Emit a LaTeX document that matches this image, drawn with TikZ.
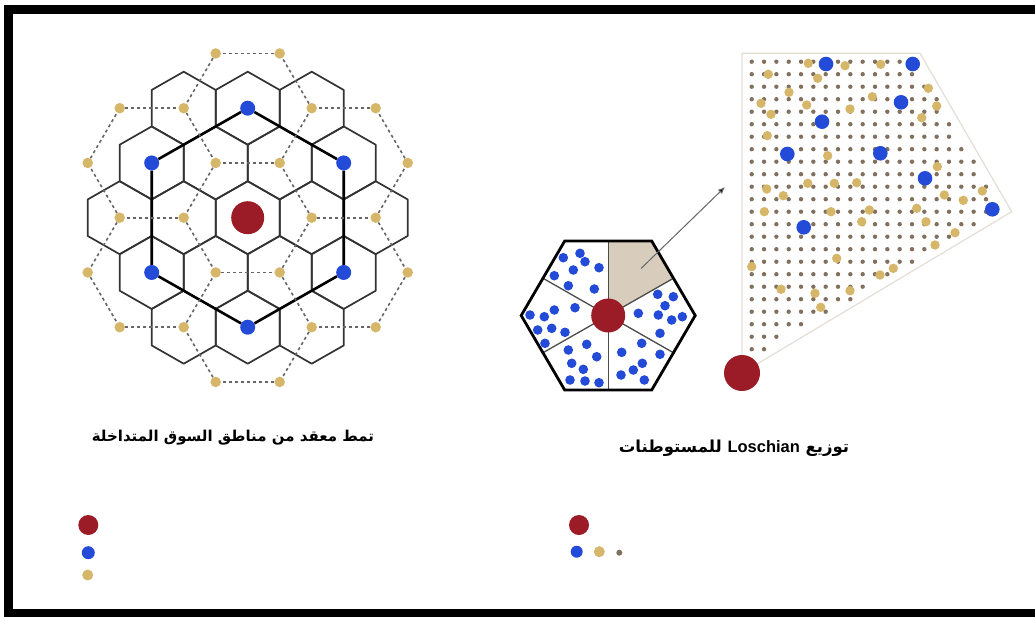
\documentclass[tikz,border=0pt]{standalone}
\usepackage{fontspec}
\newfontfamily\arabicfont[Script=Arabic]{DejaVu Sans}
\newfontfamily\latinfont{Liberation Sans}
\TeXXeTstate=1
\usetikzlibrary{arrows.meta}
\definecolor{redc}{RGB}{155,27,38}
\definecolor{bluec}{RGB}{35,75,215}
\definecolor{goldc}{RGB}{214,183,105}
\definecolor{gridc}{RGB}{130,112,95}
\definecolor{beigec}{RGB}{216,205,188}
\definecolor{fanc}{RGB}{228,222,214}
\tikzset{
  smallhex/.style={draw=black!80, line width=1.7pt, line join=round},
  bighex/.style={draw=black, line width=2.6pt},
  dashe/.style={draw=black!60, line width=1.6pt, dash pattern=on 3pt off 3pt},
  rdot/.style={circle, fill=redc, inner sep=0pt, minimum size=#1},
  bdot/.style={circle, fill=bluec, inner sep=0pt, minimum size=#1},
  gdot/.style={circle, fill=goldc, inner sep=0pt, minimum size=#1},
  ndot/.style={circle, fill=gridc, inner sep=0pt, minimum size=#1},
  spoke/.style={draw=black!70, line width=1.3pt},
  hexborder/.style={draw=black, line width=2.8pt, line join=miter},
  arrowln/.style={draw=black!60, line width=1pt, -{Latex[length=7pt,width=6pt,fill=black]}},
  capl/.style={font=\arabicfont\bfseries\fontsize{15}{17}\selectfont, inner sep=0pt},
  capr/.style={font=\arabicfont\bfseries\fontsize{16.5}{18}\selectfont, inner sep=0pt},
}
\begin{document}
\begin{tikzpicture}[x=1pt,y=-1pt]
\useasboundingbox (0,0) rectangle (1035,616);
\fill[white] (0,0) rectangle (1035,616);

% ---------- left: overlapping market areas ----------
\begin{scope}[shift={(247.7pt,-217.7pt)}, x=32pt, y=-54.75pt]
  \foreach \cx/\cy in {-2/-2,0/-2,2/-2,-3/-1,-1/-1,1/-1,3/-1,-4/0,-2/0,0/0,2/0,4/0,-3/1,-1/1,1/1,3/1,-2/2,0/2,2/2}
    \draw[smallhex] (\cx,\cy-0.6667) -- (\cx+1,\cy-0.3333) -- (\cx+1,\cy+0.3333) -- (\cx,\cy+0.6667) -- (\cx-1,\cy+0.3333) -- (\cx-1,\cy-0.3333) -- cycle;
  % centres
  \node[rdot=33pt] (R0) at (0,0) {};
  \node[bdot=15pt] (B1) at (0,-2) {};
  \node[bdot=15pt] (B2) at (3,-1) {};
  \node[bdot=15pt] (B3) at (3,1) {};
  \node[bdot=15pt] (B4) at (0,2) {};
  \node[bdot=15pt] (B5) at (-3,1) {};
  \node[bdot=15pt] (B6) at (-3,-1) {};
  \draw[bighex] (B1) -- (B2) -- (B3) -- (B4) -- (B5) -- (B6) -- (B1);
  % secondary centres
  \foreach \n/\px/\py in {Yp2z/2/0,Ym2z/-2/0,Yp1m1/1/-1,Ym1m1/-1/-1,Yp1p1/1/1,Ym1p1/-1/1,
      Yp2m2/2/-2,Ym2m2/-2/-2,Yp2p2/2/2,Ym2p2/-2/2,Yp1m3/1/-3,Ym1m3/-1/-3,Yp1p3/1/3,Ym1p3/-1/3,
      Yp5m1/5/-1,Ym5m1/-5/-1,Yp5p1/5/1,Ym5p1/-5/1,Yp4z/4/0,Ym4z/-4/0,Yp4m2/4/-2,Ym4m2/-4/-2,Yp4p2/4/2,Ym4p2/-4/2}
    \node[gdot=10.5pt] (\n) at (\px,\py) {};
  \foreach \a/\b in {Yp2z/Yp1m1,Yp1m1/Ym1m1,Ym1m1/Ym2z,Ym2z/Ym1p1,Ym1p1/Yp1p1,Yp1p1/Yp2z,
      Yp2m2/Yp1m3,Yp1m3/Ym1m3,Ym1m3/Ym2m2,Ym2m2/Ym1m1,Yp1m1/Yp2m2,
      Yp2p2/Yp1p3,Yp1p3/Ym1p3,Ym1p3/Ym2p2,Ym2p2/Ym1p1,Yp1p1/Yp2p2,
      Yp5m1/Yp4m2,Yp4m2/Yp2m2,Yp2z/Yp4z,Yp4z/Yp5m1,
      Yp5p1/Yp4p2,Yp4p2/Yp2p2,Yp4z/Yp5p1,
      Ym5m1/Ym4m2,Ym4m2/Ym2m2,Ym2z/Ym4z,Ym4z/Ym5m1,
      Ym5p1/Ym4p2,Ym4p2/Ym2p2,Ym4z/Ym5p1}
    \draw[dashe] (\a) -- (\b);
\end{scope}

% ---------- middle: hexagon with sectors ----------
\coordinate (hc) at (608.2,315.5);
\coordinate (h1) at (521.2,315.5);
\coordinate (h2) at (564.7,241);
\coordinate (h3) at (651.7,241);
\coordinate (h4) at (695.2,315.5);
\coordinate (h5) at (651.7,390);
\coordinate (h6) at (564.7,390);
\coordinate (m1) at (608.2,241);
\coordinate (m2) at (673.45,278.25);
\coordinate (m3) at (673.45,352.75);
\coordinate (m4) at (608.2,390);
\coordinate (m5) at (542.95,352.75);
\coordinate (m6) at (542.95,278.25);
\fill[beigec] (hc) -- (m1) -- (h3) -- (m2) -- cycle;
\foreach \m in {m1,m2,m3,m4,m5,m6} \draw[spoke] (hc) -- (\m);
\foreach \p in {(563.3,257.7),(580,253.3),(585,261.7),(573.3,270),(554.3,275.7),(599,267.7),(568.3,285.7),(594.3,289),
    (575,307.7),(554.3,310),(544.3,316.7),(530,315),(537.7,330),(551.7,328.3),(565,332.3),(545,343.3),
    (586.7,344.3),(568.3,350),(596.7,356.7),(571.7,363.3),(583.3,369.3),(570,380),(585,381),(599,382.7),
    (657.7,294.3),(673.3,296.7),(665,305.7),(638.3,313.3),(658.3,315),(671.7,320),(682.3,316.7),(660,333.3),
    (641.7,343.3),(621.7,352.3),(660,354.3),(642.3,363.3),(633.3,370),(621,375),(644.3,380)}
  \fill[bluec] \p circle[radius=4.8pt];
\draw[hexborder] (h1) -- (h2) -- (h3) -- (h4) -- (h5) -- (h6) -- cycle;
\node[rdot=34pt] (R1) at (hc) {};
\coordinate (arS) at (641,268.5);
\coordinate (arE) at (725,187);
\draw[arrowln] (arS) -- (arE);

% ---------- right: enlarged sector ----------
\coordinate (fA) at (742,373);
\coordinate (fB) at (742,53.3);
\coordinate (fC) at (920,53.3);
\coordinate (fD) at (1011.7,211.7);
\draw[draw=fanc, line width=1.2pt] (fA) -- (fB) -- (fC) -- (fD) -- cycle;
\foreach \i in {0,...,20}{
  \foreach \j in {0,...,23}{
    \pgfmathsetmacro\px{751.7+12.33*\i}
    \pgfmathsetmacro\py{61.7+12.5*\j}
    \pgfmathtruncatemacro\ok{and(\px<920+0.5786*(\py-53)-8, \px<742+1.677*(373-\py)-15)}
    \ifnum\ok=1 \fill[gridc] (\px,\py) circle[radius=2.2pt];\fi
  }
}
\foreach \p in {(808.3,63.3),(845,65.7),(880.7,64.3),(768.3,74.3),(817.7,78.3),(928.3,88.3),(789,92.3),(872.3,96.7),
    (761,103.3),(806.7,105),(850,109),(936.7,106),(771,114.3),(921.7,117.7),(767.3,135.7),(827.7,155.7),
    (937.3,166.7),(766.7,189),(783.3,195.7),(807.7,183.3),(834.3,183.3),(856.7,182.7),(944.3,195),(982.3,191),
    (963.3,200.3),(764.3,211.7),(831,211.7),(869.3,210),(916.7,208.3),(861.7,221.7),(926,221.7),(955,232.7),
    (935,245),(751.7,266.7),(836.7,258.3),(893.3,268.3),(880,275),(781,289.3),(815,293.3),(850,290.7),(820.7,307.3)}
  \fill[goldc] \p circle[radius=4.7pt];
\foreach \p in {(826,64),(912.7,64),(901,102.3),(822,121.7),(787.3,154),(880.3,153.3),(925,178.3),(992.3,209.3),(803.7,227.3)}
  \fill[bluec] \p circle[radius=7.3pt];
\node[rdot=36pt] (R2) at (fA) {};

% ---------- captions ----------
\node[capl] (t1) at (233,438) {\beginR تمط معقد من مناطق السوق المتداخلة\endR};
\node[capr] (t2) at (734,448) {\beginR توزيع \beginL{\latinfont Loschian}\endL{} للمستوطنات\endR};

% ---------- legends ----------
\node[rdot=20pt] (L1) at (88.3,525) {};
\node[bdot=13pt] (L2) at (88.3,552.7) {};
\node[gdot=11pt] (L3) at (87.7,575) {};
\node[rdot=20pt] (L4) at (579,525) {};
\node[bdot=12pt] (L5) at (576.7,551.7) {};
\node[gdot=11pt] (L6) at (599.3,551.7) {};
\node[ndot=6pt] (L7) at (619.3,552.7) {};

% ---------- frame ----------
\draw[line width=9pt, line join=miter] (1045,9.5) -- (8.5,9.5) -- (8.5,613) -- (1045,613);
\end{tikzpicture}
\end{document}
